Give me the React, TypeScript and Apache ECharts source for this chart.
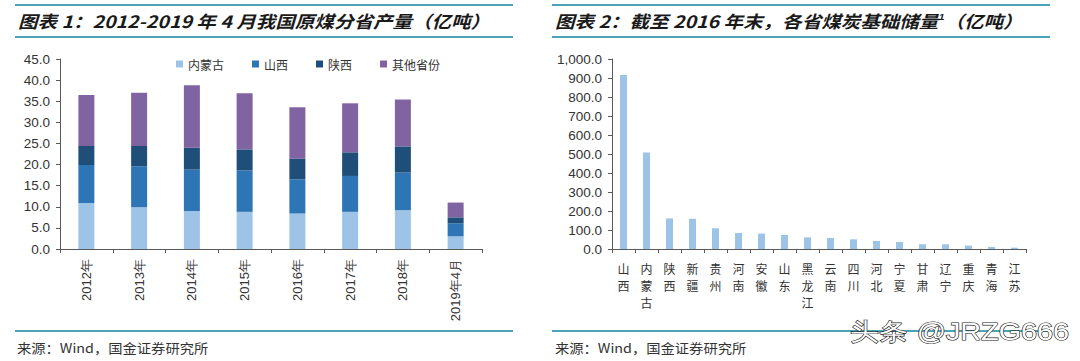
import React, { useEffect, useRef } from "react";
import * as echarts from "echarts";

const years = ["2012年", "2013年", "2014年", "2015年", "2016年", "2017年", "2018年", "2019年4月"];
const neimenggu = [10.9, 9.9, 9.0, 8.8, 8.4, 8.8, 9.2, 3.0];
const shanxi = [9.0, 9.7, 9.8, 9.8, 8.1, 8.5, 8.9, 3.1];
const shaanxi = [4.5, 4.8, 5.2, 5.0, 4.9, 5.6, 6.2, 1.4];
const others = [12.1, 12.6, 14.8, 13.3, 12.2, 11.6, 11.1, 3.5];
const leftTicks = [0, 45, 5];

const provinces = ["山西", "内蒙古", "陕西", "新疆", "贵州", "河南", "安徽", "山东", "黑龙江", "云南", "四川", "河北", "宁夏", "甘肃", "辽宁", "重庆", "青海", "江苏"];
const reserves = [916, 508, 161, 159, 109, 84, 81, 74, 61, 58, 51, 42, 37, 25, 25, 18, 11, 7];
const rightTicks = [0, 1000, 100];

const seriesNames = ["内蒙古", "山西", "陕西", "其他省份"];
const colors = ["#9dc3e6", "#2e75b6", "#1f4e79", "#8064a2"];

const TEAL = "#4aa3b6";
const NUM_FONT = "'Liberation Sans', Arial, sans-serif";
const CJK_FONT = "'Noto Sans CJK SC', sans-serif";

export default function App() {
  const ref = useRef<HTMLDivElement>(null);
  useEffect(() => {
    if (!ref.current) return;
    const chart = echarts.init(ref.current, null, { renderer: "svg" });
    const stackData = [neimenggu, shanxi, shaanxi, others];
    const axisLineStyle = { color: "#595959", width: 1 };
    const option: any = {
      animation: false,
      backgroundColor: "#ffffff",
      legend: {
        data: seriesNames,
        left: 171,
        top: 53,
        itemWidth: 7,
        itemHeight: 7,
        itemGap: 28,
        icon: "rect",
        textStyle: { fontSize: 12, color: "#333", fontFamily: CJK_FONT },
      },
      grid: [
        { left: 60, top: 59, width: 422, height: 190, outerBoundsMode: "none", containLabel: false },
        { left: 612, top: 59, width: 414, height: 190, outerBoundsMode: "none", containLabel: false },
      ],
      xAxis: [
        {
          type: "category",
          gridIndex: 0,
          data: years,
          axisLine: { lineStyle: axisLineStyle },
          axisTick: { show: true, length: 4, lineStyle: axisLineStyle },
          axisLabel: { rotate: 90, margin: 10, fontSize: 13, color: "#333", fontFamily: NUM_FONT },
        },
        {
          type: "category",
          gridIndex: 1,
          data: provinces,
          axisLine: { lineStyle: axisLineStyle },
          axisTick: { show: true, length: 4, lineStyle: axisLineStyle },
          axisLabel: {
            margin: 11,
            fontSize: 12,
            lineHeight: 17,
            color: "#333",
            fontFamily: CJK_FONT,
            verticalAlign: "top",
            formatter: (v: string) => v.split("").join("\n"),
          },
        },
      ],
      yAxis: [
        {
          type: "value",
          gridIndex: 0,
          min: leftTicks[0],
          max: leftTicks[1],
          interval: leftTicks[2],
          splitLine: { show: false },
          axisLine: { show: true, lineStyle: axisLineStyle },
          axisTick: { show: true, length: 4, lineStyle: axisLineStyle },
          axisLabel: { margin: 10, fontSize: 13.5, color: "#333", fontFamily: NUM_FONT, formatter: (v: number) => v.toFixed(1) },
        },
        {
          type: "value",
          gridIndex: 1,
          min: rightTicks[0],
          max: rightTicks[1],
          interval: rightTicks[2],
          splitLine: { show: false },
          axisLine: { show: true, lineStyle: axisLineStyle },
          axisTick: { show: true, length: 4, lineStyle: axisLineStyle },
          axisLabel: {
            margin: 10,
            fontSize: 13.5,
            color: "#333",
            fontFamily: NUM_FONT,
            formatter: (v: number) => v.toLocaleString("en-US", { minimumFractionDigits: 1, maximumFractionDigits: 1 }),
          },
        },
      ],
      series: [
        ...seriesNames.map((name, i) => ({
          name,
          type: "bar",
          stack: "total",
          xAxisIndex: 0,
          yAxisIndex: 0,
          barWidth: 16,
          itemStyle: { color: colors[i] },
          data: stackData[i],
        })),
        {
          name: "储量",
          type: "bar",
          xAxisIndex: 1,
          yAxisIndex: 1,
          barWidth: 7,
          itemStyle: { color: colors[0] },
          data: reserves,
        },
      ],
      graphic: [
        { type: "line", shape: { x1: 15, y1: 5, x2: 513, y2: 5 }, style: { stroke: TEAL, lineWidth: 2 } },
        { type: "line", shape: { x1: 15, y1: 37, x2: 513, y2: 37 }, style: { stroke: TEAL, lineWidth: 2 } },
        { type: "line", shape: { x1: 552, y1: 5, x2: 1050, y2: 5 }, style: { stroke: TEAL, lineWidth: 2 } },
        { type: "line", shape: { x1: 552, y1: 37, x2: 1050, y2: 37 }, style: { stroke: TEAL, lineWidth: 2 } },
        { type: "line", shape: { x1: 15, y1: 331, x2: 513, y2: 331 }, style: { stroke: TEAL, lineWidth: 2 } },
        { type: "line", shape: { x1: 552, y1: 331, x2: 1050, y2: 331 }, style: { stroke: TEAL, lineWidth: 2 } },
        {
          type: "text",
          x: 18,
          y: 21,
          scaleX: 1.15,
          style: {
            text: "图表 1：2012-2019 年 4 月我国原煤分省产量（亿吨）",
            fontSize: 17,
            fontStyle: "italic",
            fontWeight: "bold",
            fontFamily: CJK_FONT,
            fill: "#1a1a1a",
            verticalAlign: "middle",
          },
        },
        {
          type: "text",
          x: 555,
          y: 21,
          scaleX: 1.15,
          style: {
            text: "图表 2：截至 2016 年末，各省煤炭基础储量{sup|1}（亿吨）",
            fontSize: 17,
            fontStyle: "italic",
            fontWeight: "bold",
            fontFamily: CJK_FONT,
            fill: "#1a1a1a",
            verticalAlign: "middle",
            rich: {
              sup: { fontSize: 9, verticalAlign: "top", fontFamily: NUM_FONT, fontWeight: "bold", fontStyle: "italic", fill: "#1a1a1a", padding: [0, 0, 6, 0] },
            },
          },
        },
        {
          type: "text",
          x: 17,
          y: 347,
          scaleX: 1.1,
          style: { text: "来源：Wind，国金证券研究所", fontSize: 13, fontFamily: CJK_FONT, fill: "#333", verticalAlign: "middle" },
        },
        {
          type: "text",
          x: 555,
          y: 347,
          scaleX: 1.1,
          style: { text: "来源：Wind，国金证券研究所", fontSize: 13, fontFamily: CJK_FONT, fill: "#333", verticalAlign: "middle" },
        },
        {
          type: "text",
          x: 850,
          y: 332,
          scaleX: 1.2,
          z: 100,
          style: {
            text: "头条 @JRZG666",
            fontSize: 24,
            fontFamily: NUM_FONT,
            fill: "#ffffff",
            stroke: "#222222",
            lineWidth: 1.2,
            verticalAlign: "middle",
          },
        },
      ],
    };
    chart.setOption(option);
    return () => chart.dispose();
  }, []);
  return <div ref={ref} style={{ position: "fixed", left: 0, top: 0, width: 1080, height: 361 }} />;
}
